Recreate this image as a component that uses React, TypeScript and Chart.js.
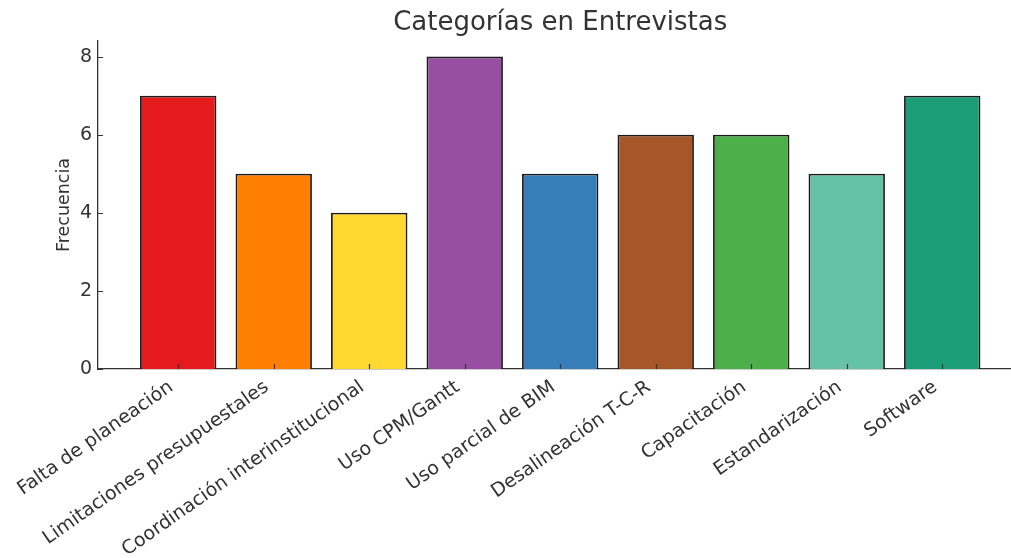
import React, { useEffect, useRef } from "react";
import { Chart, registerables } from "chart.js";

Chart.register(...registerables);

const categories = [
  "Falta de planeación",
  "Limitaciones presupuestales",
  "Coordinación interinstitucional",
  "Uso CPM/Gantt",
  "Uso parcial de BIM",
  "Desalineación T-C-R",
  "Capacitación",
  "Estandarización",
  "Software",
];
const frequencies = [7, 5, 4, 8, 5, 6, 6, 5, 7];
const barColors = [
  "#e41a1c",
  "#ff7f00",
  "#ffd92f",
  "#984ea3",
  "#377eb8",
  "#a65628",
  "#4daf4a",
  "#66c2a5",
  "#1b9e77",
];
const yTicks = [0, 2, 4, 6, 8];
const titleText = "Categorías en Entrevistas";
const yAxisLabel = "Frecuencia";

const FONT = "'DejaVu Sans', sans-serif";
const INK = "#333333";

// Inward tick marks on both axes plus the chart title centred over the bars.
const decorPlugin = {
  id: "decor",
  afterDraw(chart: any) {
    const { ctx, chartArea } = chart;
    const xs = chart.scales.x;
    const ys = chart.scales.y;
    ctx.save();
    ctx.strokeStyle = INK;
    ctx.lineWidth = 1.2;
    ctx.beginPath();
    xs.ticks.forEach((t: any) => {
      const px = Math.round(xs.getPixelForValue(t.value)) + 0.5;
      ctx.moveTo(px, chartArea.bottom);
      ctx.lineTo(px, chartArea.bottom - 5);
    });
    ys.ticks.forEach((t: any) => {
      const py = Math.round(ys.getPixelForValue(t.value)) + 0.5;
      ctx.moveTo(chartArea.left, py);
      ctx.lineTo(chartArea.left + 5, py);
    });
    ctx.stroke();

    ctx.fillStyle = INK;
    ctx.font = `26px ${FONT}`;
    ctx.textAlign = "center";
    ctx.textBaseline = "alphabetic";
    const cx = xs.getPixelForValue((categories.length - 1) / 2);
    ctx.fillText(titleText, cx, 30);
    ctx.restore();
  },
};

export default function App() {
  const canvasRef = useRef<HTMLCanvasElement | null>(null);

  useEffect(() => {
    const canvas = canvasRef.current;
    if (!canvas) return;
    const chart = new Chart(canvas, {
      type: "bar",
      data: {
        datasets: [
          {
            data: frequencies.map((v, i) => ({ x: i, y: v })),
            backgroundColor: barColors,
            borderColor: "#1a1a1a",
            borderWidth: 1.8,
            barPercentage: 0.8,
            categoryPercentage: 1,
          },
        ],
      },
      options: {
        animation: false,
        responsive: false,
        devicePixelRatio: 1,
        layout: { padding: { top: 41, left: 0, right: 0, bottom: 0 } },
        plugins: {
          legend: { display: false },
          title: { display: false },
          tooltip: { enabled: false },
        },
        scales: {
          x: {
            type: "linear",
            offset: false,
            min: -0.84,
            max: 8.72,
            z: 1,
            grid: { display: false, drawTicks: false, offset: false },
            border: { display: true, color: INK, width: 1.3 },
            afterBuildTicks: (scale: any) => {
              scale.ticks = categories.map((_, i) => ({ value: i }));
            },
            afterFit: (scale: any) => {
              scale.height = 189;
              scale.paddingLeft = 0;
              scale.paddingRight = 0;
            },
            ticks: {
              autoSkip: false,
              minRotation: 35,
              maxRotation: 35,
              padding: 7,
              labelOffset: -7,
              color: INK,
              font: { family: FONT, size: 19 },
              callback: (_v: any, i: number) => categories[i],
            },
          },
          y: {
            min: 0,
            max: 8.4,
            z: 1,
            grid: { display: false, drawTicks: false },
            border: { display: true, color: INK, width: 1.3 },
            afterBuildTicks: (scale: any) => {
              scale.ticks = yTicks.map((v) => ({ value: v }));
            },
            afterFit: (scale: any) => {
              scale.width = 98;
            },
            ticks: {
              padding: 6,
              color: INK,
              font: { family: FONT, size: 19 },
            },
            title: {
              display: true,
              text: yAxisLabel,
              color: INK,
              font: { family: FONT, size: 17.5 },
              padding: { top: 54, bottom: 0 },
            },
          },
        },
      },
      plugins: [decorPlugin],
    });
    return () => chart.destroy();
  }, []);

  return (
    <div style={{ position: "fixed", left: 0, top: 0, width: 1011, height: 558, background: "#ffffff" }}>
      <canvas ref={canvasRef} width={1011} height={558} />
    </div>
  );
}
